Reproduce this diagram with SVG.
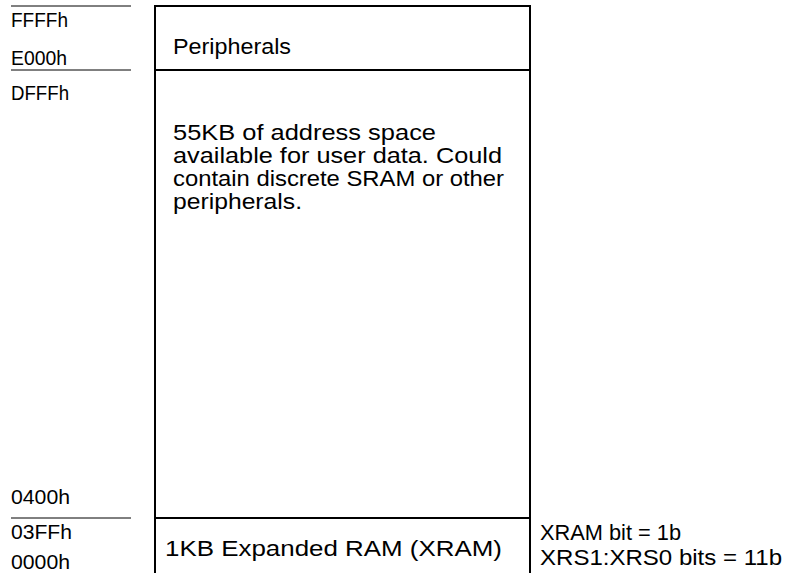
<svg xmlns="http://www.w3.org/2000/svg" width="785" height="573" viewBox="0 0 785 573">
<style>
text{font-family:"Liberation Sans",Arial,sans-serif;font-size:22px;fill:#000}
text.addr{font-size:20px}
text.body{font-size:21.5px}
.box{fill:none;stroke:#000;stroke-width:2}
.tick{stroke:#000;stroke-width:1}
</style>
<rect width="785" height="573" fill="#fff"/>
<g id="addresses">
<line class="tick" x1="11" y1="6" x2="131" y2="6"/>
<line class="tick" x1="11" y1="70" x2="131" y2="70"/>
<line class="tick" x1="11" y1="518" x2="131" y2="518"/>
<text class="addr" x="11" y="27" textLength="57" lengthAdjust="spacingAndGlyphs">FFFFh</text>
<text class="addr" x="11" y="65" textLength="56" lengthAdjust="spacingAndGlyphs">E000h</text>
<text class="addr" x="11" y="100" textLength="58" lengthAdjust="spacingAndGlyphs">DFFFh</text>
<text class="addr" x="11" y="504" textLength="59" lengthAdjust="spacingAndGlyphs">0400h</text>
<text class="addr" x="11" y="539" textLength="61" lengthAdjust="spacingAndGlyphs">03FFh</text>
<text class="addr" x="11" y="569" textLength="59" lengthAdjust="spacingAndGlyphs">0000h</text>
</g>
<g id="peripherals">
<path class="box" d="M155,580 V6 H530 V580"/>
<line class="box" x1="155" y1="70" x2="530" y2="70"/>
<text x="173" y="54" textLength="118" lengthAdjust="spacingAndGlyphs">Peripherals</text>
</g>
<g id="user">
<text class="body" x="173" y="140" textLength="263" lengthAdjust="spacingAndGlyphs">55KB of address space</text>
<text class="body" x="173" y="163" textLength="329" lengthAdjust="spacingAndGlyphs">available for user data. Could</text>
<text class="body" x="173" y="186" textLength="331" lengthAdjust="spacingAndGlyphs">contain discrete SRAM or other</text>
<text class="body" x="173" y="209" textLength="129" lengthAdjust="spacingAndGlyphs">peripherals.</text>
</g>
<g id="xram">
<line class="box" x1="155" y1="518" x2="530" y2="518"/>
<text x="165" y="556" textLength="337" lengthAdjust="spacingAndGlyphs">1KB Expanded RAM (XRAM)</text>
</g>
<g id="notes">
<text x="540" y="540" textLength="141" lengthAdjust="spacingAndGlyphs">XRAM bit = 1b</text>
<text x="540" y="565" textLength="242" lengthAdjust="spacingAndGlyphs">XRS1:XRS0 bits = 11b</text>
</g>
</svg>
